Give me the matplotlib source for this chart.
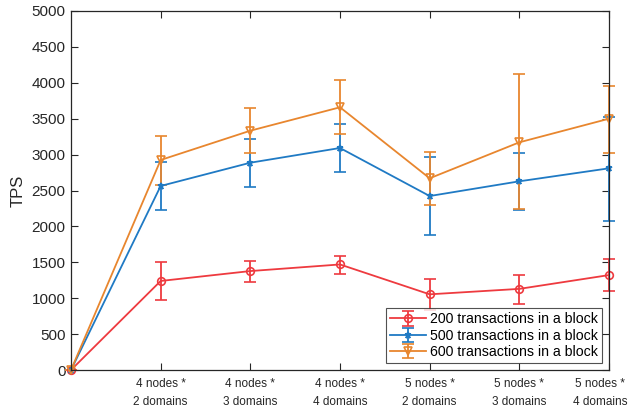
import matplotlib
matplotlib.use("Agg")
import matplotlib.pyplot as plt
import matplotlib.transforms as mtransforms

x = [0, 1, 2, 3, 4, 5, 6]
tick_labels = ["4 nodes *\n2 domains", "4 nodes *\n3 domains", "4 nodes *\n4 domains",
               "5 nodes *\n2 domains", "5 nodes *\n3 domains", "5 nodes *\n4 domains"]

tps_200 = [0, 1240, 1378, 1470, 1054, 1130, 1322]
lo_200 = [0, 975, 1230, 1337, 840, 923, 1100]
hi_200 = [0, 1500, 1518, 1592, 1267, 1328, 1546]

tps_500 = [0, 2563, 2887, 3092, 2423, 2628, 2809]
lo_500 = [0, 2228, 2553, 2758, 1880, 2235, 2080]
hi_500 = [0, 2893, 3222, 3426, 2971, 3027, 3520]

tps_600 = [0, 2925, 3333, 3659, 2670, 3171, 3500]
lo_600 = [0, 2577, 3027, 3287, 2300, 2242, 3027]
hi_600 = [0, 3259, 3645, 4039, 3040, 4123, 3960]

plt.rcParams["font.family"] = ["Liberation Sans", "DejaVu Sans"]

fig = plt.figure(figsize=(6.29, 4.08), dpi=100)
ax = fig.add_axes([71 / 629, 38 / 408, 538 / 629, 359 / 408])

series = [
    (tps_200, lo_200, hi_200, "#ee3a3f", "o", 5.5, "none", "200 transactions in a block"),
    (tps_500, lo_500, hi_500, "#1f7ac4", "*", 5, "#1f7ac4", "500 transactions in a block"),
    (tps_600, lo_600, hi_600, "#e8862e", "v", 5.5, "none", "600 transactions in a block"),
]
for y, lo, hi, color, marker, ms, mfc, label in series:
    err = [[v - l for v, l in zip(y, lo)], [h - v for v, h in zip(y, hi)]]
    ax.errorbar(x, y, yerr=err, color=color, marker=marker, markersize=ms,
                markerfacecolor=mfc, markeredgecolor=color, markeredgewidth=1.2,
                linewidth=1.3, elinewidth=1.3, capsize=4.5, capthick=1.3,
                label=label, clip_on=False)

ax.set_xlim(0, 6)
ax.set_ylim(0, 5000)
ax.set_yticks(range(0, 5001, 500))
ax.set_xticks(x[1:])
ax.set_xticklabels(tick_labels, fontsize=8.5, linespacing=1.6)
ax.tick_params(axis="y", labelsize=11, colors="#262626", pad=4)
ax.tick_params(axis="x", colors="#262626", pad=6)
ax.tick_params(direction="in", top=True, right=True, length=5, width=0.8)
for s in ax.spines.values():
    s.set_color("#262626")
    s.set_linewidth(0.9)
ax.set_ylabel("TPS", fontsize=12, color="#262626", labelpad=4)

# keep the last tick label inside the canvas
last = ax.get_xticklabels()[-1]
last.set_transform(last.get_transform() + mtransforms.ScaledTranslation(-0.09, 0, fig.dpi_scale_trans))

leg = ax.legend(loc="lower right", fontsize=10.2, frameon=True, fancybox=False,
                borderpad=0.3, labelspacing=0.15, handlelength=2.5,
                handletextpad=0.3, borderaxespad=0.5)
leg.get_frame().set_edgecolor("#262626")
leg.get_frame().set_linewidth(0.8)

fig.savefig("out.png", dpi=100)
